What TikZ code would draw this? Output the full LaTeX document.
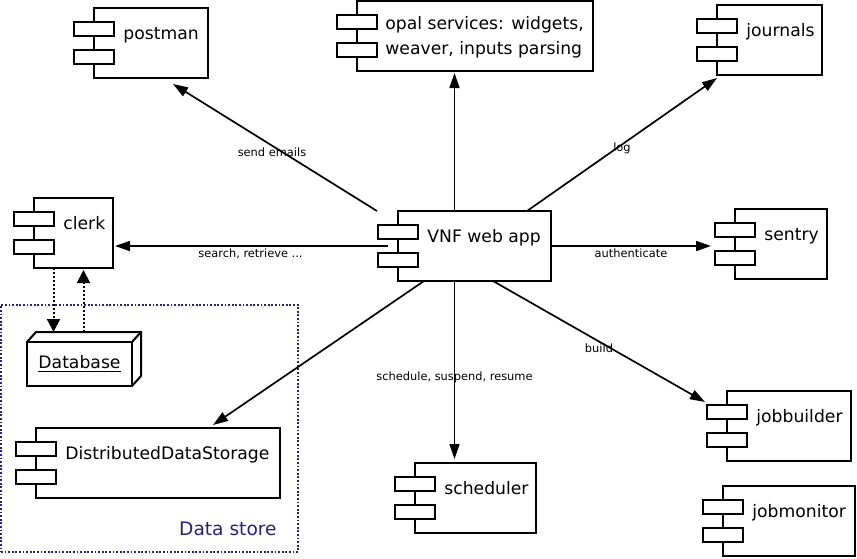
\documentclass[tikz,border=0pt]{standalone}
\usepackage{fontspec}
\setmainfont{DejaVu Sans}
\usetikzlibrary{arrows.meta}

\definecolor{storeblue}{RGB}{44,32,122}

\begin{document}
\begin{tikzpicture}[x=0.5pt,y=-0.5pt,
                    comp/.style={draw,rectangle,line width=1pt,anchor=north west,inner sep=0pt,outer sep=0pt,minimum height=35pt},
                    port/.style={draw,rectangle,line width=1pt,fill=white,inner sep=0pt,outer sep=0pt,minimum width=20pt,minimum height=7pt},
                    title/.style={anchor=base west,inner sep=0pt,xshift=14.5pt,yshift=-15.5pt,font={\fontsize{8.6}{12.5}\selectfont}},
                    msg/.style={font={\fontsize{5.7}{7}\selectfont}},
                    calls/.style={line width=.85pt,-{Triangle[length=7.5pt,width=5pt]}},
                    dbflow/.style={line width=1pt,dash pattern=on 1pt off 1pt,-{Triangle[length=6.5pt,width=6.5pt]}}]
  \useasboundingbox (0,0) rectangle (857,558);
  \node[draw=storeblue,line width=.8pt,dash pattern=on .9pt off .9pt,anchor=north west,inner sep=0pt,outer sep=0pt,
        minimum width=148.5pt,minimum height=123.5pt,
        label={[anchor=base east,inner sep=0pt,xshift=-10.5pt,yshift=8.5pt,text=storeblue,font={\fontsize{9.3}{11}\selectfont}]south east:Data store}] (store) at (1,305) {};
  \node[comp,minimum width=57pt,label={[title]north west:postman}] (postman) at (94,8) {};
  \node[comp,minimum width=118pt,label={[title,anchor=north west,align=left,xshift=-.5pt,yshift=8pt]north west:{opal services: widgets,\\weaver, inputs parsing}}] (opal) at (357,1) {};
  \node[comp,minimum width=52.5pt,label={[title]north west:journals}] (journals) at (717,5) {};
  \node[comp,minimum width=39.5pt,label={[title]north west:clerk}] (clerk) at (34,198) {};
  \node[comp,minimum width=76.5pt,label={[title]north west:VNF web app}] (vnf) at (398,211) {};
  \node[comp,minimum width=46pt,label={[title]north west:sentry}] (sentry) at (735,209) {};
  \node[comp,minimum width=122pt,label={[title]north west:DistributedDataStorage}] (dds) at (36,428) {};
  \node[comp,minimum width=60.5pt,label={[title]north west:scheduler}] (scheduler) at (415,463) {};
  \node[comp,minimum width=62pt,label={[title]north west:jobbuilder}] (jobbuilder) at (727,391) {};
  \node[comp,minimum width=66pt,label={[title]north west:jobmonitor}] (jobmonitor) at (723,486) {};
  % ports on the left side of each component
  \node[port] (postman-p1) at ([yshift=-10.5pt]postman.north west) {};
  \node[port] (postman-p2) at ([yshift=-24.5pt]postman.north west) {};
  \node[port] (opal-p1) at ([yshift=-10.5pt]opal.north west) {};
  \node[port] (opal-p2) at ([yshift=-24.5pt]opal.north west) {};
  \node[port] (journals-p1) at ([yshift=-10.5pt]journals.north west) {};
  \node[port] (journals-p2) at ([yshift=-24.5pt]journals.north west) {};
  \node[port] (clerk-p1) at ([yshift=-10.5pt]clerk.north west) {};
  \node[port] (clerk-p2) at ([yshift=-24.5pt]clerk.north west) {};
  \node[port] (vnf-p1) at ([yshift=-10.5pt]vnf.north west) {};
  \node[port] (vnf-p2) at ([yshift=-24.5pt]vnf.north west) {};
  \node[port] (sentry-p1) at ([yshift=-10.5pt]sentry.north west) {};
  \node[port] (sentry-p2) at ([yshift=-24.5pt]sentry.north west) {};
  \node[port] (dds-p1) at ([yshift=-10.5pt]dds.north west) {};
  \node[port] (dds-p2) at ([yshift=-24.5pt]dds.north west) {};
  \node[port] (scheduler-p1) at ([yshift=-10.5pt]scheduler.north west) {};
  \node[port] (scheduler-p2) at ([yshift=-24.5pt]scheduler.north west) {};
  \node[port] (jobbuilder-p1) at ([yshift=-10.5pt]jobbuilder.north west) {};
  \node[port] (jobbuilder-p2) at ([yshift=-24.5pt]jobbuilder.north west) {};
  \node[port] (jobmonitor-p1) at ([yshift=-10.5pt]jobmonitor.north west) {};
  \node[port] (jobmonitor-p2) at ([yshift=-24.5pt]jobmonitor.north west) {};
  % database box
  \node[draw,rectangle,line width=1pt,anchor=north west,inner sep=0pt,outer sep=0pt,minimum width=52.5pt,minimum height=22pt,
        font={\fontsize{8.6}{10}\selectfont}] (db) at (27,342) {\underline{Database}};
  \draw[line width=1pt] (db.north west) -- ++(9,-10) coordinate (db-back) -| ([shift={(9,-10)}]db.south east) -- (db.south east);
  \draw[line width=1pt] (db.north east) -- ++(9,-10);
  \draw[dbflow] ([xshift=-10pt]clerk.south) -- ([xshift=-10pt]clerk.south |- db-back);
  \draw[dbflow,shorten >=1pt] ([xshift=5pt]clerk.south |- db-back) -- ([xshift=5pt]clerk.south);
  % calls from the web app
  \draw[calls] ([xshift=-10.5pt]vnf.north west) -- node[msg,pos=.5,shift={(-1.5pt,-2.5pt)}] {send emails} ([shift={(11pt,-3pt)}]postman.south);
  \draw[calls,shorten >=1pt] ([xshift=-10pt]vnf.north) -- ([xshift=-10pt]vnf.north |- opal.south);
  \draw[calls] ([xshift=-12pt]vnf.north east) -- node[msg,pos=.5,yshift=-1.75pt] {log} ([yshift=-1.5pt]journals.south west);
  \draw[calls,shorten >=1pt] ([xshift=-5pt]vnf.west) -- node[msg,below,inner sep=1pt,pos=.5] {search, retrieve ...} (vnf.west -| clerk.east);
  \draw[calls] (vnf.east) -- node[msg,below,inner sep=1pt,pos=.5] {authenticate} ([xshift=-12pt]vnf.east -| sentry.west);
  \draw[calls] ([xshift=9.25pt]vnf.south) -- node[msg,pos=.5,yshift=-3.5pt] {build} ([shift={(-11pt,-5.5pt)}]jobbuilder.north west);
  \draw[calls,shorten >=2pt] ([xshift=-10pt]vnf.south) -- node[msg,pos=.53] {schedule, suspend, resume} ([xshift=-10pt]vnf.south |- scheduler.north);
  \draw[calls] ([xshift=13pt]vnf.south west) -- ([shift={(-33.5pt,1.5pt)}]dds.north east);
\end{tikzpicture}
\end{document}
